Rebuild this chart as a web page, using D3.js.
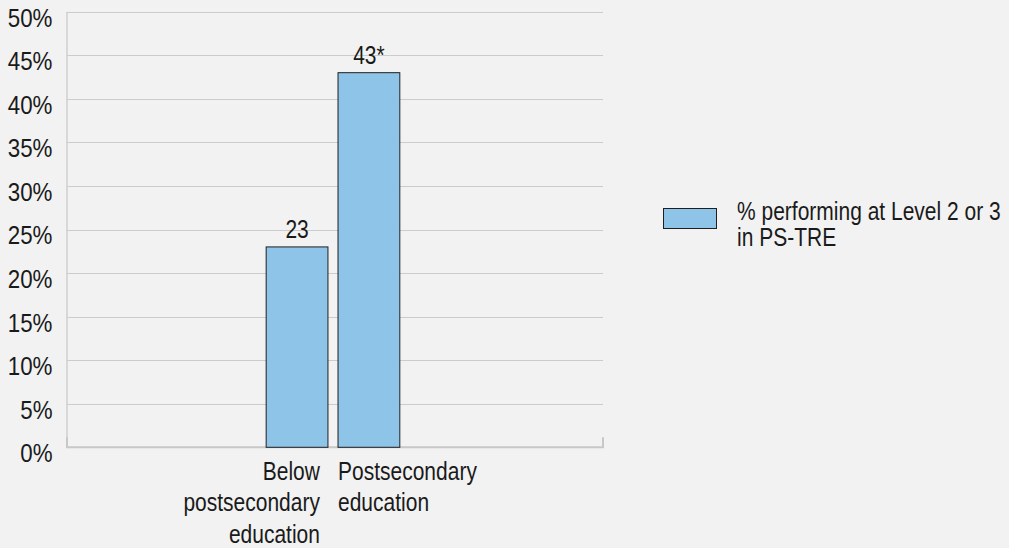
<!DOCTYPE html>
<html>
<head>
<meta charset="utf-8">
<script src="https://cdn.jsdelivr.net/npm/d3@7"></script>
<style>
  html, body { margin: 0; padding: 0; background: #f2f2f2; }
  svg { display: block; }
  text { font-family: "Liberation Sans", Arial, sans-serif; font-size: 25px; fill: #1a1a1a; }
</style>
</head>
<body>
<svg id="chart" width="1009" height="548"></svg>
<script>
// Share of adults performing at Level 2 or 3 in PS-TRE, by education
const categories = ["Below postsecondary education", "Postsecondary education"];
const categoryLines = [["Below", "postsecondary", "education"], ["Postsecondary", "education"]];
const values = [23, 43];
const valueLabels = ["23", "43*"];
const yTicks = [0, 5, 10, 15, 20, 25, 30, 35, 40, 45, 50];
const legendLines = ["% performing at Level 2 or 3", "in PS-TRE"];

const svg = d3.select("#chart");
const plot = { left: 67, right: 603, top: 11.7, bottom: 447.3 };

// Draws a (possibly multi-line) horizontally condensed text block
function label(parent, x, y0, lines, anchor, lineStep = 0, squeeze = 0.84, size = 25) {
  const t = parent.append("text")
    .attr("transform", `translate(${x},0) scale(${squeeze},1)`)
    .attr("text-anchor", anchor)
    .style("font-size", size + "px");
  [].concat(lines).forEach((line, j) => {
    t.append("tspan").attr("x", 0).attr("y", y0 + j * lineStep).text(line);
  });
  return t;
}

const y = d3.scaleLinear().domain([0, 50]).range([plot.bottom, plot.top]);
const x = d3.scaleBand()
  .domain(categories)
  .range([plot.left, plot.right])
  .paddingInner(0.14)
  .paddingOuter(2.8)
  .align(0.495);

// Horizontal gridlines
const yAxis = d3.axisLeft(y)
  .tickValues(yTicks)
  .tickSize(-(plot.right - plot.left))
  .tickFormat("");

const gy = svg.append("g")
  .attr("transform", `translate(${plot.left},0)`)
  .call(yAxis);
gy.select(".domain").remove();
gy.selectAll(".tick line")
  .attr("stroke", "#cccccc")
  .attr("stroke-width", 1)
  .attr("shape-rendering", "crispEdges");
gy.selectAll(".tick text").remove();

// Percent labels, sitting just below their gridlines
const yLabels = svg.append("g");
yTicks.forEach(t => label(yLabels, 52.5, y(t) + 15, d3.format("d")(t) + "%", "end", 0, 0.86, 26));

// Vertical axis line
svg.append("line")
  .attr("x1", plot.left).attr("x2", plot.left)
  .attr("y1", plot.top).attr("y2", plot.bottom)
  .attr("stroke", "#cfcfcf").attr("stroke-width", 1.5);

// Baseline with end ticks
svg.append("path")
  .attr("d", `M${plot.left},${plot.bottom - 10}V${plot.bottom}H${plot.right}V${plot.bottom - 10}`)
  .attr("fill", "none")
  .attr("stroke", "#c8c8c8")
  .attr("stroke-width", 2);

// Bars
svg.append("g").selectAll("rect")
  .data(values)
  .join("rect")
  .attr("x", (d, i) => x(categories[i]))
  .attr("width", x.bandwidth())
  .attr("y", d => y(d))
  .attr("height", d => y(0) - y(d))
  .attr("fill", "#8dc4e8")
  .attr("stroke", "#1f1f1f")
  .attr("stroke-width", 1);

// Value labels above bars
const valG = svg.append("g");
values.forEach((d, i) => {
  label(valG, x(categories[i]) + x.bandwidth() / 2, y(d) - 9, valueLabels[i], "middle");
});

// Category labels: first right-aligned under its bar, second left-aligned
const catG = svg.append("g");
categoryLines.forEach((lines, i) => {
  const left = x(categories[i]);
  if (i === 0) label(catG, left + x.bandwidth() - 8, 480, lines, "end", 31.5);
  else label(catG, left, 480, lines, "start", 31.5);
});

// Legend
const legend = svg.append("g");
legend.append("rect")
  .attr("x", 663.5).attr("y", 208.5)
  .attr("width", 53).attr("height", 20)
  .attr("fill", "#8dc4e8")
  .attr("stroke", "#1f1f1f")
  .attr("stroke-width", 1);
label(legend, 737, 220, legendLines, "start", 26.5);
</script>
</body>
</html>
